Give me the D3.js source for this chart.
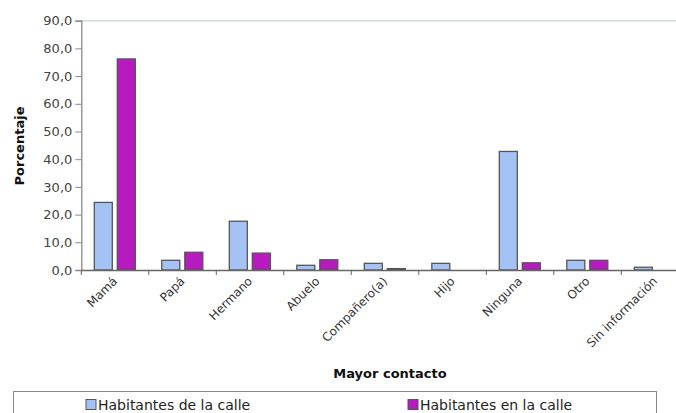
<!DOCTYPE html>
<html>
<head>
<meta charset="utf-8">
<script src="https://cdn.jsdelivr.net/npm/d3@7"></script>
<style>
  html, body { margin: 0; padding: 0; background: #fff; overflow: hidden; }
  text { font-family: "DejaVu Sans", sans-serif; }
</style>
</head>
<body>
<svg id="chart" width="676" height="413"></svg>
<script>
const categories = ["Mamá", "Papá", "Hermano", "Abuelo", "Compañero(a)", "Hijo", "Ninguna", "Otro", "Sin información"];
const seriesNames = ["Habitantes de la calle", "Habitantes en la calle"];
const calleDe = [24.4, 3.5, 17.6, 1.7, 2.4, 2.4, 42.8, 3.5, 1.0];
const calleEn = [76.2, 6.4, 6.1, 3.7, 0.5, 0, 2.6, 3.5, 0];
const yTicks = [0, 10, 20, 30, 40, 50, 60, 70, 80, 90];
const colors = ["#A4C3F4", "#B71ABF"];
const yTitle = "Porcentaje";
const xTitle = "Mayor contacto";

const svg = d3.select("#chart");
const pLeft = 81.3, pRight = 688.8, pTop = 20.7, pBottom = 270;

const x = d3.scaleBand().domain(categories).range([pLeft, pRight]).paddingInner(0).paddingOuter(0);
const x1 = d3.scaleBand().domain(seriesNames).range([13, 54]).paddingInner(0.217).paddingOuter(0);
const y = d3.scaleLinear().domain([0, 90]).range([pBottom, pTop]);

const fmt = v => d3.format(".1f")(v).replace(".", ",");

// top border of plot area
svg.append("line").attr("x1", pLeft).attr("x2", 676).attr("y1", y(90)).attr("y2", y(90))
  .attr("stroke", "#cfdcdc").attr("stroke-width", 1.5);

// bars
const data = categories.map((c, i) => ({ cat: c, vals: [calleDe[i], calleEn[i]] }));
const g = svg.append("g");
data.forEach(d => {
  d.vals.forEach((v, si) => {
    if (v <= 0) return;
    g.append("rect")
      .attr("x", x(d.cat) + x1(seriesNames[si]))
      .attr("y", y(v))
      .attr("width", x1.bandwidth())
      .attr("height", y(0) - y(v))
      .attr("fill", colors[si])
      .attr("stroke", "#555")
      .attr("stroke-width", 1.3);
  });
});

// y axis
const yAxis = d3.axisLeft(y).tickValues(yTicks).tickFormat(fmt).tickSize(6).tickPadding(3);
const ya = svg.append("g").attr("transform", `translate(${pLeft},0)`).call(yAxis);
ya.select(".domain").attr("stroke", "#888").attr("stroke-width", 1.3);
ya.selectAll(".tick line").attr("stroke", "#888");
ya.selectAll("text").attr("font-size", 13).attr("fill", "#444").attr("font-family", "DejaVu Sans");

// x axis
const xAxis = d3.axisBottom(x).tickSize(0).tickFormat(d => d);
const xa = svg.append("g").attr("transform", `translate(0,${pBottom})`).call(xAxis);
xa.select(".domain").attr("stroke", "#666").attr("stroke-width", 1.3);
xa.selectAll(".tick text")
  .attr("font-size", 12).attr("fill", "#333").attr("font-family", "DejaVu Sans")
  .attr("text-anchor", "end")
  .attr("transform", "translate(-3,6) rotate(-45)")
  .attr("dy", "0.7em").attr("y", 0);
// category boundary ticks
const bounds = categories.map(c => x(c)).concat([x(categories[categories.length - 1]) + x.bandwidth()]);
svg.append("g").selectAll("line").data(bounds).join("line")
  .attr("x1", d => d).attr("x2", d => d).attr("y1", pBottom).attr("y2", pBottom + 5)
  .attr("stroke", "#666").attr("stroke-width", 1);

// axis titles
svg.append("text").attr("transform", `translate(24,146) rotate(-90)`)
  .attr("text-anchor", "middle").attr("font-size", 13).attr("font-weight", "bold")
  .attr("fill", "#111").text(yTitle);
svg.append("text").attr("x", 390).attr("y", 378)
  .attr("text-anchor", "middle").attr("font-size", 13).attr("font-weight", "bold")
  .attr("fill", "#111").text(xTitle);

// legend
svg.append("rect").attr("x", 13.5).attr("y", 391.5).attr("width", 643).attr("height", 40)
  .attr("fill", "none").attr("stroke", "#888").attr("stroke-width", 1);
const legendPos = [86, 408];
seriesNames.forEach((s, i) => {
  svg.append("rect").attr("x", legendPos[i]).attr("y", 399.5).attr("width", 10).attr("height", 10)
    .attr("fill", colors[i]).attr("stroke", "#555").attr("stroke-width", 1);
  svg.append("text").attr("x", legendPos[i] + 12).attr("y", 409.5)
    .attr("font-size", 14).attr("fill", "#222").text(s);
});
</script>
</body>
</html>
